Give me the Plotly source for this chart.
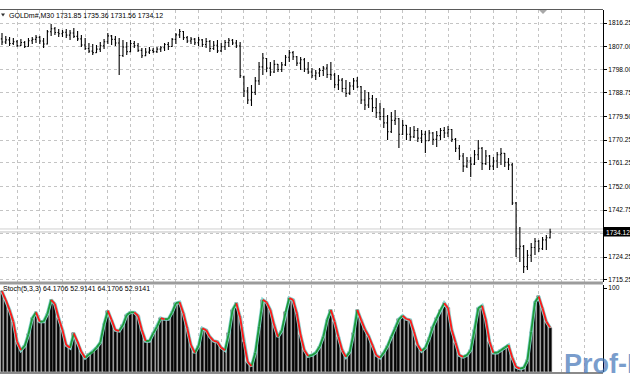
import plotly.graph_objects as go

# ---------------- data ----------------
symbol_title = "GOLDm#,M30 1731.85 1735.36 1731.56 1734.12"
ind_title = "Stoch(5,3,3) 64.1706 52.9141 64.1706 52.9141"

opens = [1810.0, 1808.8, 1809.6, 1808.2, 1808.9, 1807.4, 1808.6, 1807.0, 1809.3, 1809.8,
         1810.6, 1809.2, 1808.0, 1812.8, 1814.0, 1812.5, 1812.0, 1812.6, 1811.5, 1812.3,
         1811.0, 1810.0, 1807.6, 1806.2, 1805.2, 1804.6, 1806.0, 1807.3, 1808.9, 1811.2,
         1809.8, 1808.4, 1803.5, 1806.8, 1805.0, 1808.2, 1807.3, 1805.5, 1803.4, 1804.8,
         1805.5, 1805.0, 1806.0, 1806.5, 1807.8, 1807.0, 1809.8, 1811.6, 1812.9, 1810.5,
         1809.2, 1809.9, 1808.5, 1809.6, 1807.8, 1809.0, 1806.2, 1807.5, 1805.3, 1806.9,
         1808.6, 1809.5, 1808.4, 1807.2, 1795.0, 1789.5, 1786.0, 1789.0, 1793.5, 1799.0,
         1802.3, 1798.5, 1797.0, 1800.0, 1798.0, 1799.8, 1802.8, 1804.6, 1803.0, 1800.5,
         1801.8, 1798.2, 1797.0, 1795.5, 1796.6, 1797.6, 1798.5, 1796.0, 1795.8, 1792.0,
         1793.8, 1790.5, 1788.6, 1791.5, 1793.5, 1791.2, 1786.0, 1784.0, 1786.5, 1783.0,
         1781.0, 1779.5, 1777.0, 1773.5, 1778.0, 1778.6, 1772.5, 1776.0, 1772.5, 1771.5,
         1774.0, 1771.0, 1772.5, 1770.0, 1773.0, 1770.5, 1772.0, 1774.0, 1773.0, 1774.4,
         1770.5, 1767.0, 1764.0, 1760.0, 1762.0, 1760.8, 1764.5, 1767.0, 1761.0, 1764.0,
         1760.0, 1762.0, 1764.5, 1765.0, 1761.5, 1760.5, 1745.5, 1727.5, 1728.5, 1720.5,
         1725.0, 1728.0, 1730.5, 1727.5, 1731.0, 1731.85]
highs = [1812.32, 1811.14, 1810.75, 1810.35, 1809.57, 1809.96, 1809.18, 1810.35, 1810.75, 1811.53,
         1811.14, 1810.35, 1813.5, 1815.86, 1814.68, 1813.89, 1813.5, 1813.89, 1813.5, 1814.29,
         1813.11, 1811.53, 1810.35, 1808.39, 1808.0, 1807.61, 1808.78, 1809.96, 1812.32, 1811.53,
         1811.14, 1810.35, 1809.57, 1808.78, 1809.57, 1809.18, 1808.39, 1806.43, 1806.43, 1806.82,
         1806.43, 1806.82, 1807.21, 1808.39, 1808.78, 1810.35, 1812.32, 1813.89, 1813.11, 1811.14,
         1810.75, 1810.35, 1810.75, 1809.96, 1810.35, 1809.57, 1809.18, 1809.57, 1808.39, 1809.57,
         1810.35, 1809.96, 1809.57, 1808.78, 1795.5, 1791.1, 1791.89, 1795.03, 1800.93, 1804.46,
         1802.5, 1800.93, 1801.71, 1800.14, 1800.93, 1803.68, 1805.64, 1805.25, 1803.28, 1802.89,
         1802.5, 1800.93, 1798.57, 1797.78, 1798.57, 1799.36, 1800.14, 1800.93, 1796.6, 1795.82,
         1794.64, 1793.85, 1793.07, 1794.64, 1795.03, 1791.5, 1789.93, 1789.14, 1787.96, 1786.78,
         1784.82, 1782.85, 1780.1, 1781.28, 1782.07, 1778.92, 1778.14, 1776.17, 1775.39, 1775.78,
         1775.0, 1774.21, 1773.82, 1774.21, 1773.43, 1773.82, 1775.0, 1775.39, 1775.78, 1774.6,
         1771.07, 1768.32, 1765.17, 1763.6, 1763.6, 1766.35, 1770.28, 1767.53, 1766.35, 1764.39,
         1763.6, 1765.57, 1767.14, 1765.17, 1763.21, 1761.24, 1745.92, 1736.1, 1729.03, 1727.06,
         1729.81, 1731.78, 1730.99, 1732.17, 1732.96, 1735.36]
lows = [1807.61, 1808.0, 1807.21, 1807.61, 1806.82, 1807.21, 1806.43, 1806.9, 1808.0, 1808.39,
        1808.0, 1806.43, 1807.8, 1811.14, 1811.53, 1810.75, 1810.75, 1810.35, 1809.57, 1810.35,
        1809.18, 1806.82, 1805.64, 1804.46, 1803.68, 1804.46, 1804.85, 1806.03, 1808.0, 1807.61,
        1807.21, 1795.82, 1802.89, 1803.68, 1804.8, 1806.43, 1804.85, 1802.5, 1803.2, 1804.07,
        1804.46, 1804.46, 1804.85, 1805.25, 1805.64, 1806.82, 1808.0, 1810.35, 1809.57, 1808.39,
        1808.0, 1807.61, 1807.21, 1806.82, 1806.43, 1804.85, 1805.64, 1804.46, 1804.85, 1805.64,
        1806.82, 1807.61, 1806.43, 1794.64, 1787.18, 1784.42, 1783.64, 1787.96, 1791.89, 1795.82,
        1796.99, 1795.43, 1796.6, 1796.99, 1796.99, 1799.36, 1800.93, 1801.71, 1799.36, 1797.78,
        1796.99, 1796.21, 1794.64, 1793.85, 1795.03, 1795.43, 1794.64, 1793.85, 1790.71, 1789.93,
        1789.14, 1787.18, 1787.96, 1789.93, 1790.71, 1784.42, 1782.07, 1782.85, 1781.28, 1778.92,
        1778.14, 1775.0, 1770.28, 1773.0, 1776.17, 1767.14, 1772.25, 1770.28, 1769.89, 1771.07,
        1769.5, 1769.1, 1765.14, 1769.89, 1768.32, 1767.53, 1770.28, 1771.07, 1771.46, 1769.5,
        1765.57, 1762.42, 1757.71, 1759.28, 1755.74, 1760.46, 1762.42, 1758.49, 1760.46, 1758.49,
        1758.49, 1759.28, 1760.46, 1759.67, 1758.49, 1744.74, 1724.31, 1722.35, 1718.03, 1719.2,
        1722.35, 1725.1, 1726.28, 1727.06, 1727.06, 1731.56]
closes = [1808.8, 1809.6, 1808.2, 1808.9, 1807.4, 1808.6, 1807.0, 1809.3, 1809.8, 1810.6,
          1809.2, 1808.0, 1812.8, 1814.0, 1812.5, 1812.0, 1812.6, 1811.5, 1812.3, 1811.0,
          1810.0, 1807.6, 1806.2, 1805.2, 1804.6, 1806.0, 1807.3, 1808.9, 1811.2, 1809.8,
          1808.4, 1803.5, 1806.8, 1805.0, 1808.2, 1807.3, 1805.5, 1803.4, 1804.8, 1805.5,
          1805.0, 1806.0, 1806.5, 1807.8, 1807.0, 1809.8, 1811.6, 1812.9, 1810.5, 1809.2,
          1809.9, 1808.5, 1809.6, 1807.8, 1809.0, 1806.2, 1807.5, 1805.3, 1806.9, 1808.6,
          1809.5, 1808.4, 1807.2, 1795.5, 1789.5, 1786.0, 1789.0, 1793.5, 1799.0, 1802.5,
          1798.5, 1797.0, 1800.0, 1798.0, 1799.8, 1802.8, 1804.6, 1803.0, 1800.5, 1801.8,
          1798.2, 1797.0, 1795.5, 1796.6, 1797.6, 1798.5, 1796.0, 1795.8, 1792.0, 1793.8,
          1790.5, 1788.6, 1791.5, 1793.5, 1791.2, 1786.0, 1784.0, 1786.5, 1783.0, 1781.0,
          1779.5, 1777.0, 1773.5, 1778.0, 1778.6, 1772.5, 1776.0, 1772.5, 1771.5, 1774.0,
          1771.0, 1772.5, 1770.0, 1773.0, 1770.5, 1772.0, 1774.0, 1773.0, 1774.4, 1770.5,
          1767.0, 1764.0, 1760.0, 1762.0, 1760.8, 1764.5, 1767.0, 1761.0, 1764.0, 1760.0,
          1762.0, 1764.5, 1765.0, 1761.5, 1760.5, 1745.5, 1727.5, 1728.5, 1720.5, 1725.0,
          1728.0, 1730.5, 1727.5, 1731.0, 1731.85, 1734.12]

stoch_values = [96, 86, 74, 60, 36, 26, 31, 45, 64, 71,
                60, 60, 69, 86, 81, 64, 50, 32, 29, 46,
                36, 24, 17, 21, 24, 29, 35, 57, 73, 62,
                50, 49, 56, 68, 71, 71, 67, 50, 37, 37,
                46, 54, 64, 63, 63, 71, 82, 83, 70, 52,
                32, 23, 31, 52, 50, 42, 37, 36, 29, 26,
                46, 74, 82, 65, 36, 12, 7, 23, 54, 86,
                83, 74, 56, 42, 49, 71, 88, 86, 70, 44,
                26, 19, 20, 23, 30, 42, 62, 74, 60, 42,
                26, 18, 24, 46, 74, 62, 51, 43, 32, 20,
                17, 23, 31, 42, 52, 63, 67, 63, 62, 48,
                32, 25, 29, 40, 54, 64, 74, 82, 76, 50,
                35, 20, 18, 20, 26, 50, 76, 79, 62, 36,
                23, 23, 26, 29, 32, 17, 6, 4, 5, 14,
                48, 83, 90, 76, 60, 52.91]

price_ticks = [1816.25, 1807.00, 1798.00, 1788.75, 1779.50, 1770.25, 1761.25,
               1752.00, 1742.75, 1733.50, 1724.25, 1715.25]
price_tick_text = ["1816.25", "1807.00", "1798.00", "1788.75", "1779.50", "1770.25",
                   "1761.25", "1752.00", "1742.75", "", "1724.25", "1715.25"]
bid_price = 1734.12
ask_price = 1735.30
grid_bars = list(range(4, 160, 6))

# ---------------- figure ----------------
W, H = 630, 380
PR = 603  # right edge of plotting area in px
FONT = "Liberation Sans, Arial, sans-serif"
AXFONT = 6.6


def py(y):
    return 1 - y / H


def px(x):
    return x / PR


idx = list(range(len(closes)))

fig = go.Figure()

fig.add_trace(go.Ohlc(
    x=idx, open=opens, high=highs, low=lows, close=closes,
    increasing=dict(line=dict(color="#000000", width=1.1)),
    decreasing=dict(line=dict(color="#000000", width=1.1)),
    tickwidth=0.3, xaxis="x", yaxis="y", showlegend=False, hoverinfo="skip"))

fig.add_trace(go.Bar(
    x=idx, y=stoch_values, xaxis="x2", yaxis="y2", width=0.78,
    marker=dict(color="#050505", line=dict(color="#707070", width=0.5)),
    showlegend=False, hoverinfo="skip"))

fig.add_trace(go.Scatter(
    x=idx, y=stoch_values, xaxis="x2", yaxis="y2", mode="lines",
    line=dict(color="#8ad6d2", width=3.4), showlegend=False, hoverinfo="skip"))

gx, gy, rx, ry = [], [], [], []
for i in range(len(stoch_values) - 1):
    if stoch_values[i + 1] >= stoch_values[i]:
        gx += [i, i + 1, None]
        gy += [stoch_values[i], stoch_values[i + 1], None]
    else:
        rx += [i, i + 1, None]
        ry += [stoch_values[i], stoch_values[i + 1], None]

fig.add_trace(go.Scatter(x=gx, y=gy, xaxis="x2", yaxis="y2", mode="lines",
                         line=dict(color="#1f9a3c", width=1.9), showlegend=False, hoverinfo="skip"))
fig.add_trace(go.Scatter(x=rx, y=ry, xaxis="x2", yaxis="y2", mode="lines",
                         line=dict(color="#ff1a1a", width=1.9), showlegend=False, hoverinfo="skip"))

xr = [-2 / 3.78, 601 / 3.78]
grid = dict(showgrid=True, gridcolor="#c4c4c4", griddash="3px,3px", gridwidth=1)

fig.update_layout(
    width=W, height=H,
    margin=dict(l=0, r=W - PR, t=0, b=0, autoexpand=False),
    paper_bgcolor="white", plot_bgcolor="white",
    font=dict(family=FONT, size=7, color="#000000"),
    bargap=0,
    xaxis=dict(domain=[0, 1], range=xr, anchor="y", tickvals=grid_bars, showticklabels=False,
               ticks="", zeroline=False, showline=False, rangeslider=dict(visible=False), **grid),
    yaxis=dict(domain=[py(282), py(10)], range=[1714.46, 1821.36], side="right", anchor="x",
               tickvals=price_ticks, ticktext=price_tick_text, ticks="outside", ticklen=3,
               tickcolor="#000000", tickfont=dict(size=AXFONT, family=FONT, color="#000000"),
               showline=True, linecolor="#000000", linewidth=1, zeroline=False,
               automargin=False, **grid),
    xaxis2=dict(domain=[0, 1], range=xr, anchor="y2", tickvals=grid_bars, showticklabels=False,
                ticks="", zeroline=False, showline=False, **grid),
    yaxis2=dict(domain=[py(372), py(285)], range=[0, 103.6], side="right", anchor="x2",
                tickvals=[100], ticktext=["100"], ticks="outside", ticklen=3,
                tickcolor="#000000", tickfont=dict(size=AXFONT, family=FONT, color="#000000"),
                showline=True, linecolor="#000000", linewidth=1, zeroline=False,
                showgrid=False, automargin=False),
)

shapes = []
shapes.append(dict(type="line", xref="x", yref="y", x0=xr[0], x1=xr[1], y0=bid_price, y1=bid_price,
                   line=dict(color="#c0c0c0", width=1), layer="below"))
shapes.append(dict(type="line", xref="x", yref="y", x0=xr[0], x1=xr[1], y0=ask_price, y1=ask_price,
                   line=dict(color="#d0d0d0", width=1), layer="below"))
shapes.append(dict(type="line", xref="paper", yref="paper", x0=0, x1=1, y0=py(9.5), y1=py(9.5),
                   line=dict(color="#5a5a5a", width=1)))
shapes.append(dict(type="rect", xref="paper", yref="paper", x0=0, x1=1, y0=py(284.5), y1=py(281.5),
                   fillcolor="#9c9c9c", line=dict(width=0)))
shapes.append(dict(type="rect", xref="paper", yref="paper", x0=0, x1=1, y0=py(374), y1=py(372),
                   fillcolor="#8a8a8a", line=dict(width=0)))
shapes.append(dict(type="rect", xref="paper", yref="paper", x0=px(604), x1=px(631),
                   y0=py(236.5), y1=py(227), fillcolor="#000000", line=dict(width=0)))
shapes.append(dict(type="path", xref="paper", yref="paper",
                   path=f"M {px(1)},{py(13.5)} L {px(5)},{py(13.5)} L {px(3)},{py(16.5)} Z",
                   fillcolor="#303030", line=dict(width=0)))
shapes.append(dict(type="path", xref="paper", yref="paper",
                   path=f"M {px(539)},{py(10)} L {px(547)},{py(10)} L {px(543)},{py(14)} Z",
                   fillcolor="#a8a8a8", line=dict(width=0)))
fig.update_layout(shapes=shapes)

annotations = [
    dict(xref="paper", yref="paper", x=px(7), y=py(15), xanchor="left", yanchor="middle",
         text=symbol_title, showarrow=False, font=dict(size=7, family=FONT, color="#000000")),
    dict(xref="paper", yref="paper", x=px(1), y=py(289), xanchor="left", yanchor="middle",
         text=ind_title, showarrow=False, font=dict(size=7, family=FONT, color="#000000")),
    dict(xref="paper", yref="paper", x=px(604), y=py(232), xanchor="left", yanchor="middle",
         text=f"{bid_price:.2f}", showarrow=False, font=dict(size=AXFONT, family=FONT, color="#ffffff")),
    dict(xref="paper", yref="paper", x=px(562), y=py(364), xanchor="left", yanchor="middle",
         text="<b>Prof-Forex</b>", showarrow=False,
         font=dict(size=27, family=FONT, color="rgba(70,120,185,0.72)")),
]
fig.update_layout(annotations=annotations)

fig.write_html("out.html", config={"displayModeBar": False},
               post_script="document.body.style.margin='0';document.body.style.overflow='hidden';")
